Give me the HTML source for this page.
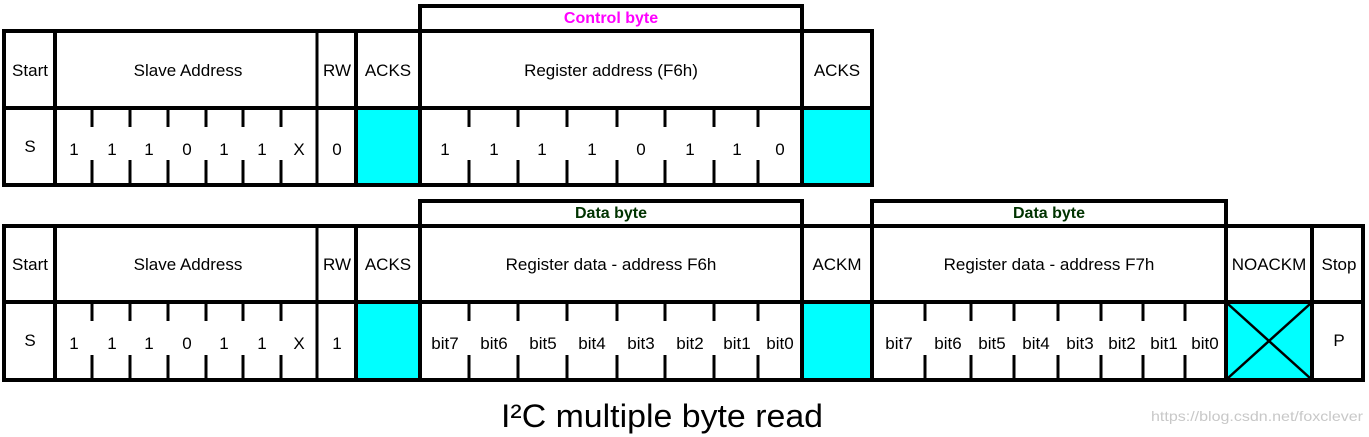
<!DOCTYPE html>
<html><head><meta charset="utf-8"><style>
html,body{margin:0;padding:0;background:#fff;width:1369px;height:437px;overflow:hidden}
svg{display:block}
text{font-family:"Liberation Sans",Arial,sans-serif;font-size:17px;fill:#000;text-anchor:middle}
</style></head><body>
<svg width="1369" height="437" viewBox="0 0 1369 437" xmlns="http://www.w3.org/2000/svg">
<rect x="356" y="109" width="64" height="76" fill="#00ffff"/>
<rect x="802" y="109" width="70" height="76" fill="#00ffff"/>
<g stroke="#000" stroke-width="4" fill="none">
<polyline points="420,31 420,6 802,6 802,31"/>
<line x1="2" y1="31" x2="874" y2="31"/>
<line x1="2" y1="108" x2="874" y2="108"/>
<line x1="2" y1="185" x2="874" y2="185"/>
<line x1="4" y1="29" x2="4" y2="187"/>
<line x1="55" y1="29" x2="55" y2="187"/>
<line x1="356" y1="29" x2="356" y2="187"/>
<line x1="420" y1="29" x2="420" y2="187"/>
<line x1="802" y1="29" x2="802" y2="187"/>
<line x1="872" y1="29" x2="872" y2="187"/>
</g>
<line x1="317" y1="31" x2="317" y2="185" stroke="#000" stroke-width="3"/>
<g stroke="#000" stroke-width="3">
<path d="M92 108V127M92 160V185M130 108V127M130 160V185M168 108V127M168 160V185M206 108V127M206 160V185M243 108V127M243 160V185M281 108V127M281 160V185"/>
<path d="M469 108V127M469 160V185M518 108V127M518 160V185M567 108V127M567 160V185M617 108V127M617 160V185M665 108V127M665 160V185M714 108V127M714 160V185M758 108V127M758 160V185"/>
</g>
<text x="611" y="23" style="fill:#ff00ff;font-weight:bold;font-size:16px">Control byte</text>
<text x="30" y="76">Start</text>
<text x="188" y="76">Slave Address</text>
<text x="337" y="76">RW</text>
<text x="388" y="76">ACKS</text>
<text x="611" y="76">Register address (F6h)</text>
<text x="837" y="76">ACKS</text>
<text x="30" y="152">S</text>
<g>
<text x="74" y="155">1</text><text x="112" y="155">1</text><text x="149" y="155">1</text><text x="187" y="155">0</text><text x="224" y="155">1</text><text x="262" y="155">1</text><text x="299" y="155">X</text><text x="337" y="155">0</text>
<text x="445" y="155">1</text><text x="494" y="155">1</text><text x="542" y="155">1</text><text x="592" y="155">1</text><text x="641" y="155">0</text><text x="690" y="155">1</text><text x="737" y="155">1</text><text x="780" y="155">0</text>
</g>
<rect x="356" y="303" width="64" height="76" fill="#00ffff"/>
<rect x="802" y="303" width="70" height="76" fill="#00ffff"/>
<rect x="1226" y="303" width="86" height="76" fill="#00ffff"/>
<g stroke="#000" stroke-width="4" fill="none">
<polyline points="420,226 420,201 802,201 802,226"/>
<polyline points="872,226 872,201 1226,201 1226,226"/>
<line x1="2" y1="226" x2="1365" y2="226"/>
<line x1="2" y1="302" x2="1365" y2="302"/>
<line x1="2" y1="380" x2="1365" y2="380"/>
<line x1="4" y1="224" x2="4" y2="382"/>
<line x1="55" y1="224" x2="55" y2="382"/>
<line x1="356" y1="224" x2="356" y2="382"/>
<line x1="420" y1="224" x2="420" y2="382"/>
<line x1="802" y1="224" x2="802" y2="382"/>
<line x1="872" y1="224" x2="872" y2="382"/>
<line x1="1226" y1="224" x2="1226" y2="382"/>
<line x1="1312" y1="224" x2="1312" y2="382"/>
<line x1="1363" y1="224" x2="1363" y2="382"/>
</g>
<line x1="317" y1="226" x2="317" y2="380" stroke="#000" stroke-width="3"/>
<g stroke="#000" stroke-width="2.5"><line x1="1228" y1="304" x2="1310" y2="378"/><line x1="1310" y1="304" x2="1228" y2="378"/></g>
<g stroke="#000" stroke-width="3">
<path d="M92 302V321M92 355V380M130 302V321M130 355V380M168 302V321M168 355V380M206 302V321M206 355V380M243 302V321M243 355V380M281 302V321M281 355V380"/>
<path d="M469 302V321M469 355V380M518 302V321M518 355V380M567 302V321M567 355V380M617 302V321M617 355V380M665 302V321M665 355V380M714 302V321M714 355V380M758 302V321M758 355V380"/>
<path d="M925 302V321M925 355V380M971 302V321M971 355V380M1014 302V321M1014 355V380M1058 302V321M1058 355V380M1101 302V321M1101 355V380M1143 302V321M1143 355V380M1185 302V321M1185 355V380"/>
</g>
<text x="611" y="218" style="fill:#003300;font-weight:bold;font-size:16px">Data byte</text>
<text x="1049" y="218" style="fill:#003300;font-weight:bold;font-size:16px">Data byte</text>
<text x="30" y="270">Start</text>
<text x="188" y="270">Slave Address</text>
<text x="337" y="270">RW</text>
<text x="388" y="270">ACKS</text>
<text x="611" y="270">Register data - address F6h</text>
<text x="837" y="270">ACKM</text>
<text x="1049" y="270">Register data - address F7h</text>
<text x="1269" y="270">NOACKM</text>
<text x="1339" y="270">Stop</text>
<text x="30" y="346">S</text>
<text x="1339" y="346">P</text>
<g>
<text x="74" y="349">1</text><text x="112" y="349">1</text><text x="149" y="349">1</text><text x="187" y="349">0</text><text x="224" y="349">1</text><text x="262" y="349">1</text><text x="299" y="349">X</text><text x="337" y="349">1</text>
<text x="445" y="349">bit7</text><text x="494" y="349">bit6</text><text x="543" y="349">bit5</text><text x="592" y="349">bit4</text><text x="641" y="349">bit3</text><text x="690" y="349">bit2</text><text x="737" y="349">bit1</text><text x="780" y="349">bit0</text>
<text x="899" y="349">bit7</text><text x="948" y="349">bit6</text><text x="992" y="349">bit5</text><text x="1036" y="349">bit4</text><text x="1080" y="349">bit3</text><text x="1122" y="349">bit2</text><text x="1164" y="349">bit1</text><text x="1205" y="349">bit0</text>
</g>
<text x="662" y="427" style="font-size:32px" textLength="322" lengthAdjust="spacingAndGlyphs">I²C multiple byte read</text>
<text x="1257" y="421" style="font-size:14px;fill:#c8c8c8" textLength="212" lengthAdjust="spacingAndGlyphs">https://blog.csdn.net/foxclever</text>
</svg>
</body></html>
